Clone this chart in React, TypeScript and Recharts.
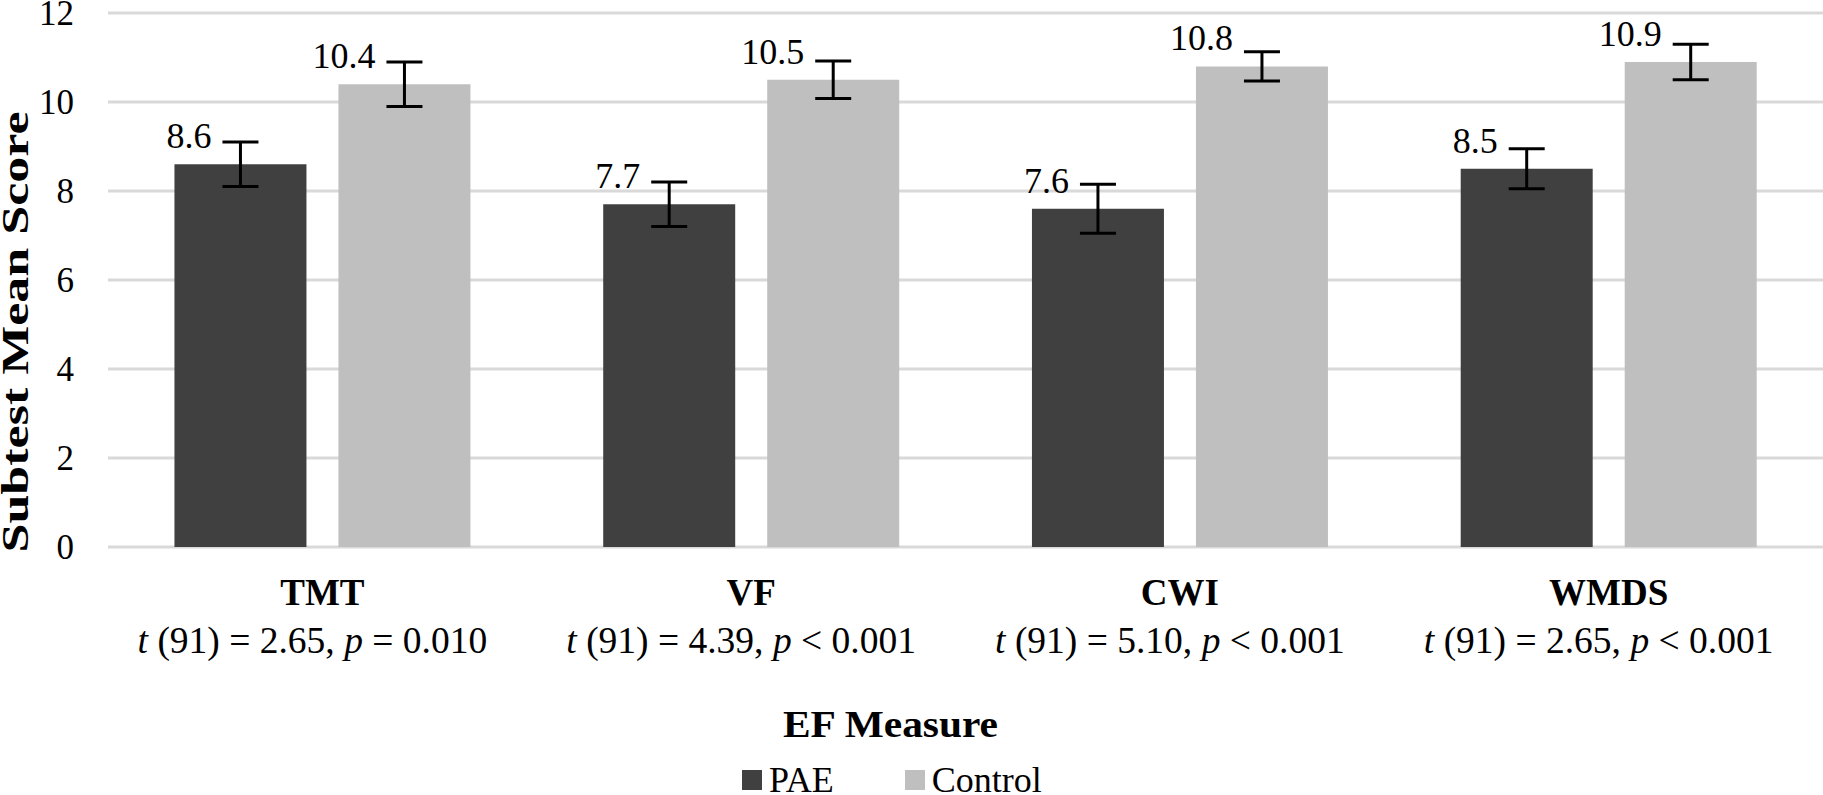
import { BarChart, Bar, XAxis, YAxis, CartesianGrid, ErrorBar, LabelList, Legend } from 'recharts';

const categories = ['TMT', 'VF', 'CWI', 'WMDS'];
const paeMeans = [8.6, 7.7, 7.6, 8.5];
const controlMeans = [10.4, 10.5, 10.8, 10.9];
const paeErrors = [0.5, 0.5, 0.55, 0.45];
const controlErrors = [0.5, 0.42, 0.33, 0.4];
const tStats = ['2.65', '4.39', '5.10', '2.65'];
const pStats = ['= 0.010', '< 0.001', '< 0.001', '< 0.001'];
const yTicks = [0, 2, 4, 6, 8, 10, 12];

const FONT = '"Liberation Serif", "Times New Roman", serif';
const PAE_COLOR = '#404040';
const CONTROL_COLOR = '#BFBFBF';
const GRID_COLOR = '#D9D9D9';

const data = categories.map((name, i) => ({
  name,
  pae: paeMeans[i],
  paeErr: paeErrors[i],
  control: controlMeans[i],
  controlErr: controlErrors[i],
}));

function CategoryTick(props: any) {
  const { x, y, payload } = props;
  const i = categories.indexOf(payload.value);
  return (
    <g>
      <text x={x} y={y + 58} textAnchor="middle" fontFamily={FONT} fontSize={37} fontWeight="bold" fill="#000">
        {payload.value}
      </text>
      <text x={x - 10} y={y + 106} textAnchor="middle" fontFamily={FONT} fontSize={37.5} fill="#000">
        <tspan fontStyle="italic">t</tspan>
        <tspan>{` (91) = ${tStats[i]}, `}</tspan>
        <tspan fontStyle="italic">p</tspan>
        <tspan>{` ${pStats[i]}`}</tspan>
      </text>
    </g>
  );
}

function ValueTick(props: any) {
  const { x, y, payload } = props;
  return (
    <text x={x - 34} y={y + 12} textAnchor="end" fontFamily={FONT} fontSize={35} fill="#000">
      {payload.value}
    </text>
  );
}

function renderValueLabel(props: any) {
  const { x, y, width, value } = props;
  return (
    <text x={x + width / 2 - 29} y={y - 16} textAnchor="end" fontFamily={FONT} fontSize={36} fill="#000">
      {Number(value).toFixed(1)}
    </text>
  );
}

function XTitle(props: any) {
  const vb = props.viewBox || { x: 108, y: 547, width: 1715, height: 198 };
  return (
    <text
      x={vb.x + vb.width / 2 - 75}
      y={vb.y + 190}
      textAnchor="middle"
      fontFamily={FONT}
      fontSize={38}
      fontWeight="bold"
      fill="#000"
      textLength={215}
      lengthAdjust="spacingAndGlyphs"
    >
      EF Measure
    </text>
  );
}

function YTitle() {
  return (
    <text
      x={28}
      y={332}
      transform="rotate(-90, 28, 332)"
      textAnchor="middle"
      fontFamily={FONT}
      fontSize={38}
      fontWeight="bold"
      fill="#000"
      textLength={441}
      lengthAdjust="spacingAndGlyphs"
    >
      Subtest Mean Score
    </text>
  );
}

function LegendContent() {
  const items = [
    { label: 'PAE', color: PAE_COLOR },
    { label: 'Control', color: CONTROL_COLOR },
  ];
  return (
    <div
      style={{
        boxSizing: 'border-box',
        height: 50,
        paddingTop: 19,
        paddingLeft: 742,
        display: 'flex',
        alignItems: 'center',
        fontFamily: FONT,
        fontSize: 36,
        lineHeight: '26px',
      }}
    >
      {items.map((it, i) => (
        <div key={it.label} style={{ display: 'flex', alignItems: 'center', marginRight: i === 0 ? 71 : 0 }}>
          <span style={{ width: 20, height: 20, background: it.color, display: 'inline-block', marginRight: 7 }} />
          <span>{it.label}</span>
        </div>
      ))}
    </div>
  );
}

export default function App() {
  return (
    <div style={{ position: 'absolute', left: 0, top: 0, background: '#fff' }}>
      <BarChart
        width={1823}
        height={795}
        data={data}
        margin={{ top: 13, right: 0, left: 8, bottom: 0 }}
        barCategoryGap="15.5%"
        barGap={32}
      >
        <CartesianGrid vertical={false} stroke={GRID_COLOR} strokeWidth={3} />
        <XAxis
          dataKey="name"
          axisLine={false}
          tickLine={false}
          tickSize={0}
          tickMargin={0}
          height={198}
          interval={0}
          tick={<CategoryTick />}
          label={<XTitle />}
        />
        <YAxis
          width={100}
          domain={[0, 12]}
          ticks={yTicks}
          axisLine={false}
          tickLine={false}
          tickSize={0}
          tickMargin={0}
          tick={<ValueTick />}
          label={<YTitle />}
        />
        <Legend verticalAlign="bottom" height={50} wrapperStyle={{ left: 0, width: 1823 }} content={<LegendContent />} />
        <Bar dataKey="pae" name="PAE" fill={PAE_COLOR} isAnimationActive={false}>
          <ErrorBar dataKey="paeErr" width={18} stroke="#000" strokeWidth={3} />
          <LabelList dataKey="pae" content={renderValueLabel} />
        </Bar>
        <Bar dataKey="control" name="Control" fill={CONTROL_COLOR} isAnimationActive={false}>
          <ErrorBar dataKey="controlErr" width={18} stroke="#000" strokeWidth={3} />
          <LabelList dataKey="control" content={renderValueLabel} />
        </Bar>
      </BarChart>
    </div>
  );
}
